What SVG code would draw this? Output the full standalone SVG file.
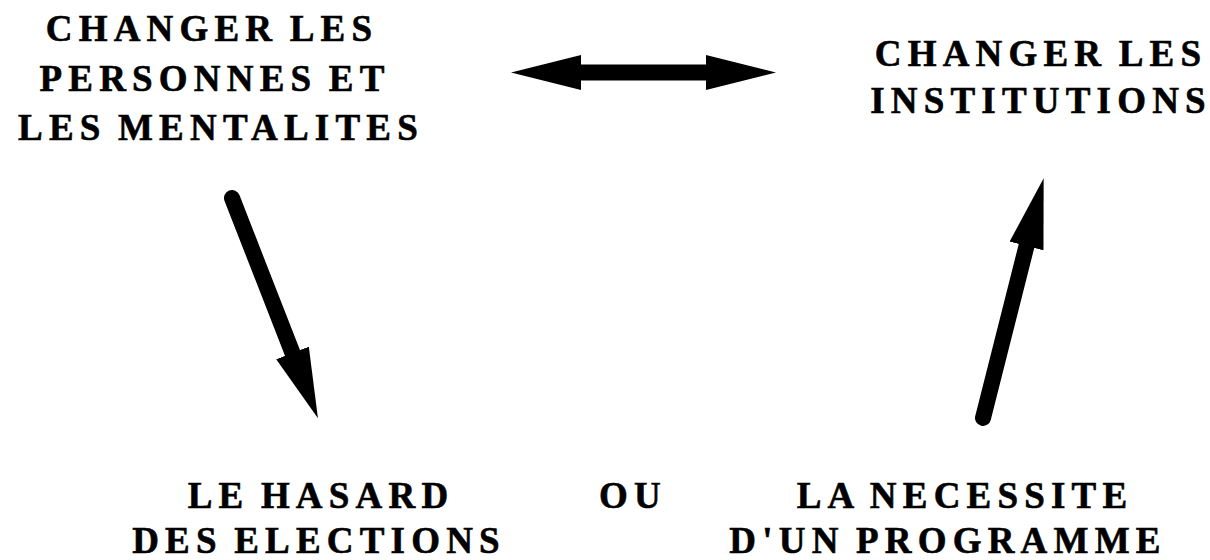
<svg xmlns="http://www.w3.org/2000/svg" width="1210" height="560" viewBox="0 0 1210 560">
<style>
.t{font-family:"Liberation Serif","Times New Roman",serif;font-weight:bold;font-size:37px;letter-spacing:6.2px;word-spacing:-4px;fill:#000;stroke:#000;stroke-width:0.6px;text-anchor:middle}
.shaft{stroke:#000;stroke-width:16;fill:none}
.round{stroke-linecap:round}
</style>
<defs>
<marker id="head" markerUnits="userSpaceOnUse" markerWidth="72" markerHeight="36" refX="0" refY="17.5" orient="auto-start-reverse" viewBox="0 0 72 36">
<path d="M0,0 L70,17.5 L0,35 z" fill="#000"/>
</marker>
</defs>
<rect width="1210" height="560" fill="#fff"/>
<g id="n-personnes">
<text class="t" x="212" y="41">CHANGER LES</text>
<text class="t" x="215" y="91">PERSONNES ET</text>
<text class="t" x="221" y="140" letter-spacing="5.6">LES MENTALITES</text>
</g>
<g id="n-institutions">
<text class="t" x="1041" y="66">CHANGER LES</text>
<text class="t" x="1041" y="113" letter-spacing="5.8">INSTITUTIONS</text>
</g>
<g id="n-hasard">
<text class="t" x="321" y="508">LE HASARD</text>
<text class="t" x="319" y="553">DES ELECTIONS</text>
</g>
<g id="n-ou">
<text class="t" x="633" y="508">OU</text>
</g>
<g id="n-programme">
<text class="t" x="965" y="508">LA NECESSITE</text>
<text class="t" x="948" y="553">D'UN PROGRAMME</text>
</g>
<g id="connectors">
<line class="shaft" x1="581" y1="72.5" x2="706" y2="72.5" marker-start="url(#head)" marker-end="url(#head)"/>
<line class="shaft round" x1="232" y1="198" x2="292.5" y2="353" marker-end="url(#head)"/>
<line class="shaft round" x1="983" y1="418" x2="1026.5" y2="246" marker-end="url(#head)"/>
</g>
</svg>
